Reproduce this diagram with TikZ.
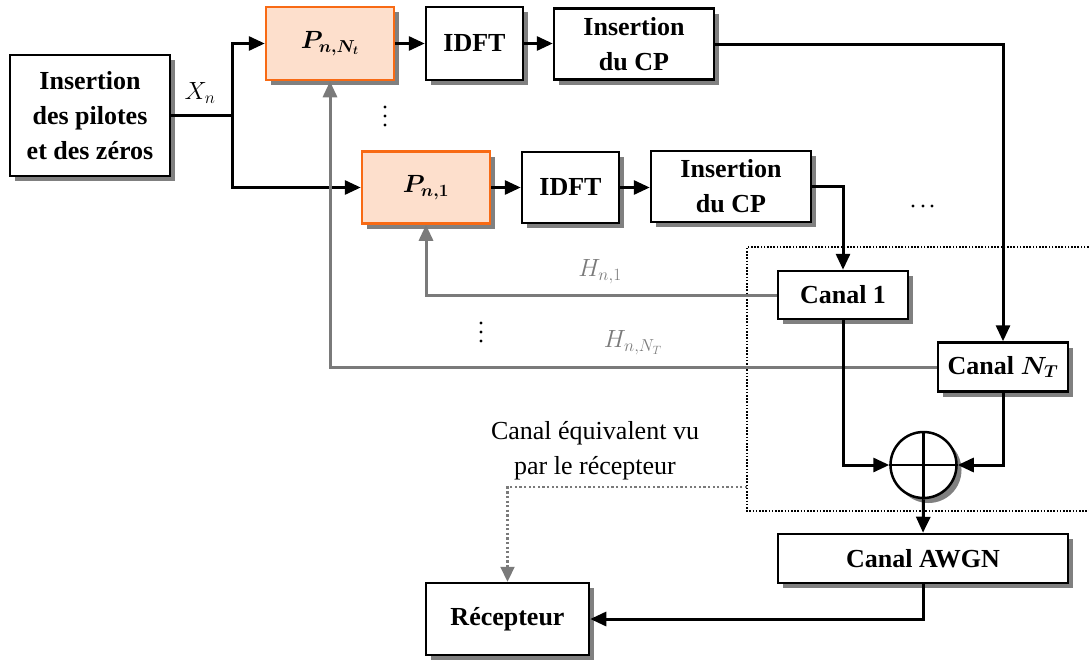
\documentclass[tikz,border=0pt]{standalone}
\usepackage{fontspec}
\setmainfont{Liberation Serif}
\usepackage{amsmath,bm}
\usetikzlibrary{arrows.meta,shadows,calc}
\definecolor{orng}{HTML}{F86A14}
\definecolor{peach}{HTML}{FDDFCC}
\definecolor{shd}{HTML}{808080}
\definecolor{gline}{HTML}{7A7A7A}
\begin{document}
\begin{tikzpicture}[x=1pt,y=-1pt,
  every node/.style={font=\fontsize{26}{35}\selectfont},
  blk/.style={draw, line width=2.5pt, fill=white, align=center,
    font=\fontsize{26}{35}\selectfont\bfseries, inner sep=0pt,
    general shadow={fill=shd, shadow xshift=5pt, shadow yshift=-5pt}},
  pblk/.style={blk, draw=orng, fill=peach},
  arr/.style={line width=3pt, -{Triangle[length=16pt,width=14pt]}},
  garr/.style={line width=3pt, draw=gline, -{Triangle[length=16pt,width=14pt]}},
  dotdot/.style={fill=black, circle, inner sep=0pt, minimum size=3.4pt},
  ]
\useasboundingbox (0,0) rectangle (1089,659);
% dotted region
\draw[line width=1.8pt, dash pattern=on 1.6pt off 1.6pt] (1095,247) -- (747,247) -- (747,511) -- (1095,511);
% blocks
\node[blk, minimum width=160pt, minimum height=121pt] (pil) at (90,115.5) {Insertion\\des pilotes\\et des zéros};
\node[pblk, minimum width=128pt, minimum height=73pt] (pnt) at (330,43.5) {$\boldsymbol{P_{n,N_t}}$};
\node[blk, minimum width=97pt, minimum height=73pt] (id1) at (474.5,43.5) {IDFT};
\node[blk, minimum width=160pt, minimum height=71pt] (cp1) at (634,44) {Insertion\\du CP};
\node[pblk, minimum width=128pt, minimum height=72pt] (pn1) at (426,187.5) {$\boldsymbol{P_{n,1}}$};
\node[blk, minimum width=97pt, minimum height=71pt] (id2) at (570.5,187.5) {IDFT};
\node[blk, minimum width=160pt, minimum height=71pt] (cp2) at (731,186.5) {Insertion\\du CP};
\node[blk, minimum width=130pt, minimum height=48pt] (c1) at (843,295) {Canal 1};
\node[blk, minimum width=130pt, minimum height=49pt] (cnt) at (1003,367) {Canal $\boldsymbol{N_T}$};
\node[circle, draw, line width=2.5pt, fill=white, minimum size=66pt, inner sep=0pt,
  general shadow={fill=shd, shadow xshift=5pt, shadow yshift=-5pt}] (sum) at (923.5,465) {};
\draw[line width=2.5pt] (sum.north) -- (sum.south) (sum.west) -- (sum.east);
\node[blk, minimum width=290pt, minimum height=49pt] (awgn) at (923,558.5) {Canal AWGN};
\node[blk, minimum width=163pt, minimum height=72pt] (rec) at (507.5,619) {Récepteur};
% connectors
\coordinate (br) at (232,115.5);
\draw[line width=3pt] (pil.east) -- (br);
\draw[arr] (br) |- (pnt.west);
\draw[arr] (br) |- (pn1.west);
\node (xn) at (200,93) {$X_n$};
\draw[arr] (pnt.east) -- (id1.west);
\draw[arr] (id1.east) -- (id1.east -| cp1.west);
\draw[arr] (cp1.east) -| (cnt.north);
\draw[arr] (pn1.east) -- (pn1.east -| id2.west);
\draw[arr] (id2.east) -- (id2.east -| cp2.west);
\draw[arr] (cp2.east) -| (c1.north);
\draw[garr] (c1.west) -| (pn1.south);
\draw[garr] (cnt.west) -| (pnt.south);
\node[text=gline] (h1) at (600,272) {$H_{n,1}$};
\node[text=gline] (hnt) at (633,343) {$H_{n,N_T}$};
\draw[arr] (c1.south) |- (sum.west);
\draw[arr] (cnt.south) |- (sum.east);
\draw[arr] (sum.south) -- (awgn.north);
\draw[arr] (awgn.south) |- (rec.east);
% equivalent channel label
\node[align=center] (cap) at (595,450.5) {Canal équivalent vu\\par le récepteur};
\coordinate (dl) at (747,487);
\draw[line width=2.2pt, draw=gline, dash pattern=on 2.2pt off 2.4pt, -{Triangle[length=15pt,width=14pt]}] (dl) -| (rec.north);
% ellipsis dots
\foreach \yy in {107,116,125} \node[dotdot] at (385,\yy) {};
\foreach \yy in {323,332,341} \node[dotdot] at (481,\yy) {};
\foreach \xx in {913,923,932} \node[dotdot] at (\xx,206) {};
\end{tikzpicture}
\end{document}
